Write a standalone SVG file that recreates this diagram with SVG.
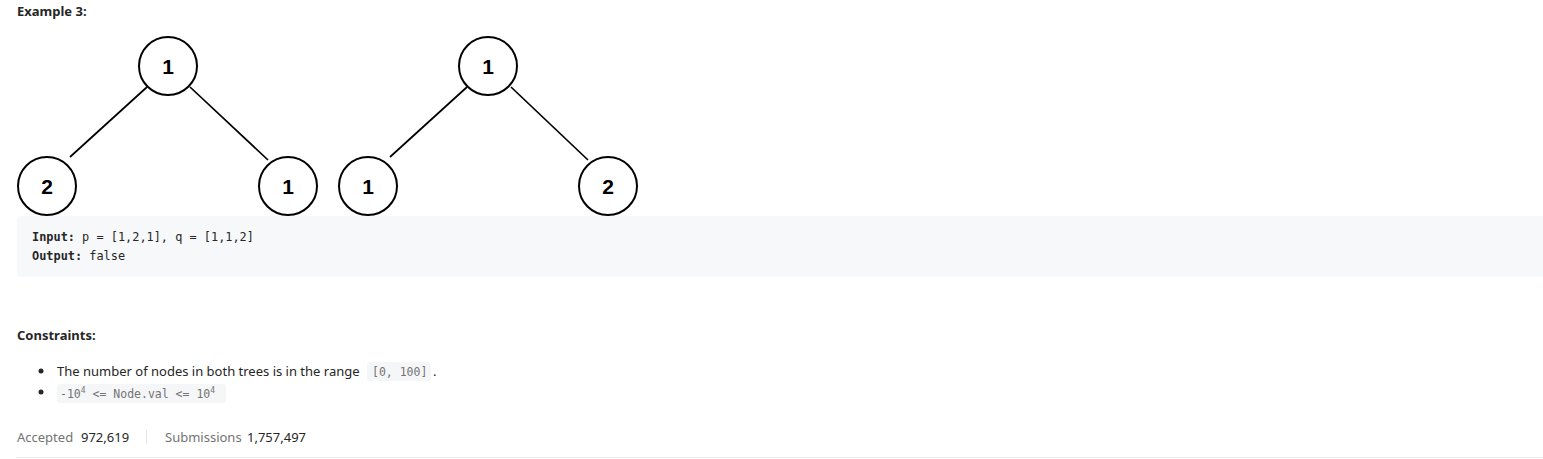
<svg xmlns="http://www.w3.org/2000/svg" width="1543" height="459" viewBox="0 0 1543 459">
<style>
.node circle{fill:#fff;stroke:#000;stroke-width:2}
.node text{font-family:"Liberation Sans",Arial,sans-serif;font-weight:bold;font-size:21px;text-anchor:middle;fill:#000}
.edges line{stroke:#000;stroke-width:1.7}
.t{font-family:"Noto Sans","Open Sans",sans-serif;font-size:13px;fill:#262626}
.b{font-weight:bold}
.m{font-family:"DejaVu Sans Mono","Liberation Mono",monospace;font-size:11.9px;fill:#262626}
.c{font-family:"DejaVu Sans Mono","Liberation Mono",monospace;font-size:11.5px;fill:#737373}
.g{fill:#737373}
</style>
<rect width="1543" height="459" fill="#fff"/>
<text class="t b" x="17" y="16" font-size="12">Example 3:</text>
<g class="edges">
<line x1="147" y1="87" x2="70" y2="157"/>
<line x1="190" y1="87" x2="268" y2="160"/>
<line x1="467" y1="87" x2="390" y2="157"/>
<line x1="511" y1="87" x2="588" y2="160"/>
</g>
<g id="p_root" class="node"><circle cx="168" cy="66" r="29"/><text x="168" y="74">1</text></g>
<g id="p_left" class="node"><circle cx="47" cy="186" r="29"/><text x="47" y="194">2</text></g>
<g id="p_right" class="node"><circle cx="288" cy="186" r="29"/><text x="288" y="194">1</text></g>
<g id="q_root" class="node"><circle cx="488" cy="66" r="29"/><text x="488" y="74">1</text></g>
<g id="q_left" class="node"><circle cx="368" cy="186" r="29"/><text x="368" y="194">1</text></g>
<g id="q_right" class="node"><circle cx="608" cy="186" r="29"/><text x="608" y="194">2</text></g>
<rect x="17" y="216" width="1540" height="61" rx="4" fill="#f7f8fa"/>
<text class="m" x="32" y="241"><tspan font-weight="bold">Input:</tspan> p = [1,2,1], q = [1,1,2]</text>
<text class="m" x="32" y="260"><tspan font-weight="bold">Output:</tspan> false</text>
<text class="t b" x="17" y="340" font-size="12">Constraints:</text>
<circle cx="41" cy="371" r="2.5" fill="#262626"/>
<circle cx="41" cy="392" r="2.5" fill="#262626"/>
<text class="t" x="57" y="376">The number of nodes in both trees is in the range</text>
<rect x="367" y="362" width="64" height="19" rx="3" fill="#f5f6f8"/>
<text class="c" x="372" y="376">[0, 100]</text>
<text class="t" x="433" y="376">.</text>
<rect x="57" y="384" width="169" height="19" rx="3" fill="#f5f6f8"/>
<text class="c" x="60" y="398">-10<tspan font-size="8" dy="-5">4</tspan><tspan dy="5"> &lt;= Node.val &lt;= 10</tspan><tspan font-size="8" dy="-5">4</tspan></text>
<text class="t g" x="17" y="442" font-size="12">Accepted</text>
<text class="t" x="81" y="442" font-size="12">972,619</text>
<line x1="146.5" y1="430" x2="146.5" y2="444" stroke="#e5e5e5"/>
<text class="t g" x="165" y="442" font-size="12">Submissions</text>
<text class="t" x="247" y="442" font-size="12">1,757,497</text>
<line x1="17" y1="457.5" x2="1543" y2="457.5" stroke="#ebebeb"/>
</svg>
